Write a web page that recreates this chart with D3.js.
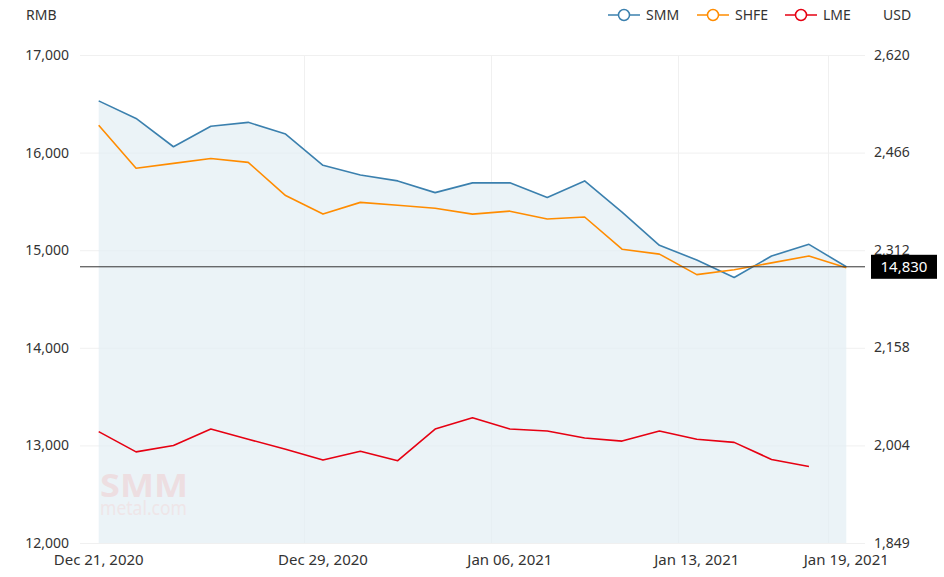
<!DOCTYPE html>
<html>
<head>
<meta charset="utf-8">
<script src="https://cdn.jsdelivr.net/npm/d3@7"></script>
<style>
  body { margin: 0; background: #fff; }
  text { font-family: "Noto Sans", "Open Sans", sans-serif; }
</style>
</head>
<body>
<script>
const dates = ['2020-12-21', '2020-12-22', '2020-12-23', '2020-12-24', '2020-12-25', '2020-12-28', '2020-12-29',
  '2020-12-30', '2020-12-31', '2021-01-04', '2021-01-05', '2021-01-06', '2021-01-07', '2021-01-08',
  '2021-01-11', '2021-01-12', '2021-01-13', '2021-01-14', '2021-01-15', '2021-01-18', '2021-01-19'];
const smm = [16530, 16350, 16060, 16270, 16310, 16190, 15870, 15770, 15710, 15590, 15690,
  15690, 15540, 15710, 15390, 15050, 14900, 14720, 14940, 15060, 14830];
const shfe = [16280, 15840, 15890, 15940, 15900, 15560, 15370, 15490, 15460, 15430, 15370,
  15400, 15320, 15340, 15010, 14960, 14750, 14800, 14870, 14940, 14820];
// LME is in USD, on the right axis, no value on the last day
const lme = [2025, 1993, 2003, 2029, 2013, 1997, 1980, 1994, 1979, 2029, 2047,
  2029, 2026, 2015, 2010, 2026, 2013, 2008, 1981, 1970];
const rmbTicks = [12000, 13000, 14000, 15000, 16000, 17000];
const usdTicks = [1849, 2004, 2158, 2312, 2466, 2620];
const dateLabels = ['2020-12-21', '2020-12-29', '2021-01-06', '2021-01-13', '2021-01-19'];
const lastPrice = 14830;

const width = 944;
const height = 577;
const margin = { top: 55, right: 79, bottom: 34, left: 80 };

const svg = d3.select('body')
  .append('svg')
  .attr('width', width)
  .attr('height', height);

const x = d3.scaleBand()
  .domain(dates)
  .range([margin.left, width - margin.right]);
const cx = d => x(d) + x.bandwidth() / 2;

const yL = d3.scaleLinear()
  .domain([12000, 17000])
  .range([height - margin.bottom, margin.top]);
const yR = d3.scaleLinear()
  .domain([1849, 2620])
  .range([height - margin.bottom, margin.top]);

const fmt = d3.format(',');
const fmtDate = d3.timeFormat('%b %d, %Y');
const parse = d3.timeParse('%Y-%m-%d');
const labelColor = '#333';

// grid
svg.append('g')
  .selectAll('line')
  .data(rmbTicks)
  .join('line')
  .attr('x1', margin.left)
  .attr('x2', width - margin.right)
  .attr('y1', d => yL(d) + 0.5)
  .attr('y2', d => yL(d) + 0.5)
  .attr('stroke', '#f0f0f0');

svg.append('g')
  .selectAll('line')
  .data(dateLabels.slice(1))
  .join('line')
  .attr('x1', d => Math.round(x(d)) + 0.5)
  .attr('x2', d => Math.round(x(d)) + 0.5)
  .attr('y1', margin.top)
  .attr('y2', height - margin.bottom)
  .attr('stroke', '#f0f0f0');

// area under SMM
svg.append('path')
  .datum(smm)
  .attr('fill', '#e3eef4')
  .attr('fill-opacity', 0.7)
  .attr('d', d3.area()
    .x((d, i) => cx(dates[i]))
    .y0(yL(12000))
    .y1(d => yL(d)));

// watermark
svg.append('text')
  .attr('x', 100).attr('y', 497)
  .attr('font-size', 33).attr('font-weight', 'bold')
  .attr('textLength', 88).attr('lengthAdjust', 'spacingAndGlyphs')
  .attr('fill', '#eed9dc').attr('fill-opacity', 0.8)
  .text('SMM');
svg.append('text')
  .attr('x', 100).attr('y', 515)
  .attr('font-size', 19)
  .attr('textLength', 87).attr('lengthAdjust', 'spacingAndGlyphs')
  .attr('fill', '#f0e2e4').attr('fill-opacity', 0.8)
  .text('metal.com');

const series = [
  { name: 'SMM', values: smm, color: '#3b80ae', y: yL },
  { name: 'SHFE', values: shfe, color: '#ff8c00', y: yL },
  { name: 'LME', values: lme, color: '#e60012', y: yR }
];

series.forEach(s => {
  svg.append('path')
    .datum(s.values)
    .attr('fill', 'none')
    .attr('stroke', s.color)
    .attr('stroke-width', 1.6)
    .attr('stroke-linejoin', 'round')
    .attr('d', d3.line()
      .x((d, i) => cx(dates[i]))
      .y(d => s.y(d)));
});

// last price marker
svg.append('line')
  .attr('x1', margin.left)
  .attr('x2', width - margin.right)
  .attr('y1', yL(lastPrice))
  .attr('y2', yL(lastPrice))
  .attr('stroke', '#333')
  .attr('stroke-width', 1);

// left axis labels
svg.append('g')
  .selectAll('text')
  .data(rmbTicks)
  .join('text')
  .attr('x', 69)
  .attr('y', d => yL(d))
  .attr('dy', '0.35em')
  .attr('text-anchor', 'end')
  .attr('font-size', 14)
  .attr('fill', labelColor)
  .text(d => fmt(d));

// right axis labels
svg.append('g')
  .selectAll('text')
  .data(usdTicks)
  .join('text')
  .attr('x', 874)
  .attr('y', d => yR(d))
  .attr('dy', '0.35em')
  .attr('font-size', 14)
  .attr('fill', labelColor)
  .text(d => fmt(d));

// x labels
svg.append('g')
  .selectAll('text')
  .data(dateLabels)
  .join('text')
  .attr('x', d => cx(d))
  .attr('y', 560)
  .attr('dy', '0.35em')
  .attr('text-anchor', 'middle')
  .attr('font-size', 15)
  .attr('fill', labelColor)
  .text(d => fmtDate(parse(d)));

// unit titles
svg.append('text').attr('x', 26).attr('y', 15).attr('dy', '0.35em')
  .attr('font-size', 14).attr('fill', labelColor).text('RMB');
svg.append('text').attr('x', 883).attr('y', 15).attr('dy', '0.35em')
  .attr('font-size', 14).attr('fill', labelColor).text('USD');

// legend
const legendX = [608, 697, 785];
const legend = svg.append('g')
  .selectAll('g')
  .data(series)
  .join('g')
  .attr('transform', (d, i) => `translate(${legendX[i]},15)`);
legend.append('line')
  .attr('x1', 0).attr('x2', 32)
  .attr('stroke', d => d.color).attr('stroke-width', 1.5);
legend.append('circle')
  .attr('cx', 16).attr('r', 5.5)
  .attr('fill', '#fff')
  .attr('stroke', d => d.color).attr('stroke-width', 1.5);
legend.append('text')
  .attr('x', 38).attr('dy', '0.35em')
  .attr('font-size', 14).attr('fill', labelColor)
  .text(d => d.name);

// last price label
const tag = svg.append('g')
  .attr('transform', `translate(871,${yL(lastPrice)})`);
tag.append('rect')
  .attr('x', 0).attr('y', -12)
  .attr('width', 66).attr('height', 24)
  .attr('fill', '#000');
tag.append('text')
  .attr('x', 33).attr('dy', '0.35em')
  .attr('text-anchor', 'middle')
  .attr('font-size', 15).attr('fill', '#fff')
  .text(fmt(lastPrice));
</script>
</body>
</html>
